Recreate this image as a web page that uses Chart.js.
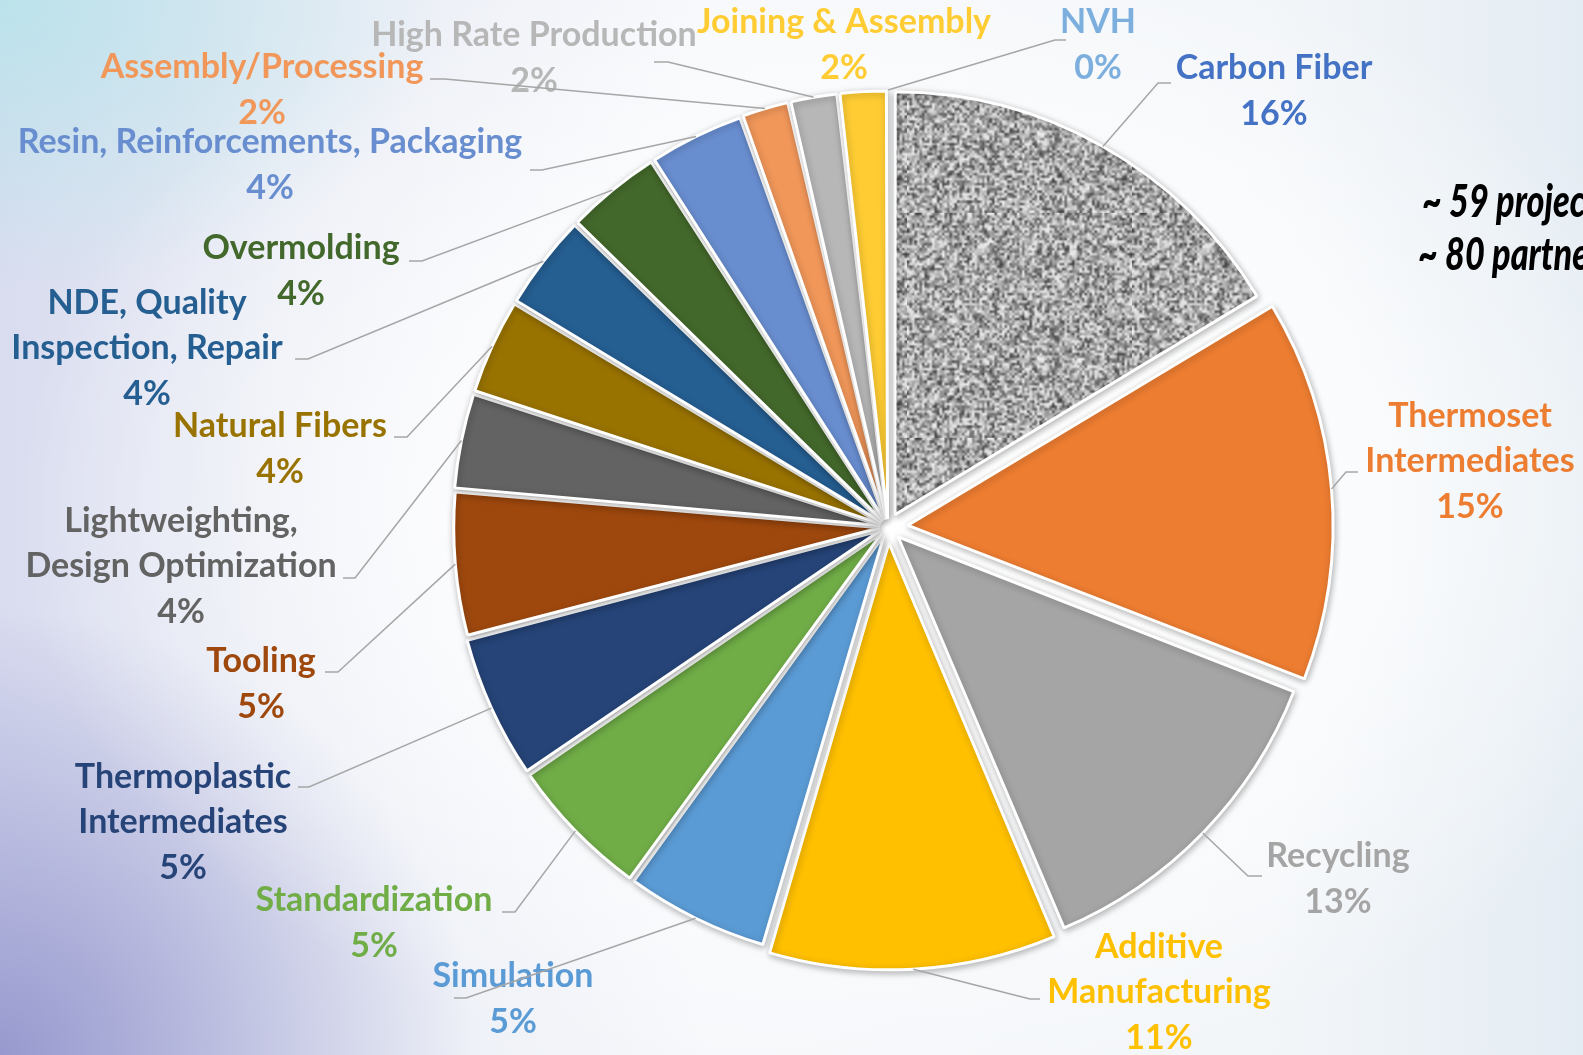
<!DOCTYPE html>
<html>
<head>
<meta charset="utf-8">
<script src="https://cdn.jsdelivr.net/npm/chart.js@4.4.0/dist/chart.umd.min.js"></script>
<style>
html, body { margin: 0; padding: 0; overflow: hidden; }
body {
  width: 1583px; height: 1055px;
  background:
    radial-gradient(ellipse 55% 55% at 56% 48%, rgba(255,255,255,1) 0%, rgba(255,255,255,0.85) 45%, rgba(255,255,255,0) 100%),
    radial-gradient(ellipse 30% 42% at 0% 100%, rgba(148,150,205,0.95) 0%, rgba(148,150,205,0) 100%),
    radial-gradient(ellipse 28% 28% at 0% 0%, rgba(185,228,235,0.9) 0%, rgba(185,228,235,0) 100%),
    linear-gradient(to right, #d9dcef 0%, #e9ecf5 18%, #f6f8fb 45%, #f3f6f9 80%, #e4ecf3 100%);
}
#wrap { position: relative; width: 1583px; height: 1055px; }
#pie { position: absolute; left: 0; top: 0; }
.note {
  position: absolute; white-space: nowrap; color: #000;
  font-family: Lato, "Open Sans", sans-serif; font-weight: 900; font-style: italic; font-size: 45px;
  transform: scaleX(0.76); transform-origin: left top;
}
</style>
</head>
<body>
<div id="wrap">
  <canvas id="pie" width="1583" height="1055"></canvas>
  <div class="note" style="left:1422px; top:173px;">~ 59 projects</div>
  <div class="note" style="left:1418px; top:226px;">~ 80 partners</div>
</div>
<script>
// categories, clockwise from 12 o'clock
var categories = [
  'Carbon Fiber',
  ['Thermoset', 'Intermediates'],
  'Recycling',
  ['Additive', 'Manufacturing'],
  'Simulation',
  'Standardization',
  ['Thermoplastic', 'Intermediates'],
  'Tooling',
  ['Lightweighting,', 'Design Optimization'],
  'Natural Fibers',
  ['NDE, Quality', 'Inspection, Repair'],
  'Overmolding',
  'Resin, Reinforcements, Packaging',
  'Assembly/Processing',
  'High Rate Production',
  'Joining & Assembly',
  'NVH'
];
// number of projects per area
var projects = [9, 8, 7, 6, 3, 3, 3, 3, 2, 2, 2, 2, 2, 1, 1, 1, 0];

var sliceColors = ['#A5A5A5', '#ED7D31', '#A5A5A5', '#FFC000', '#5B9BD5', '#70AD47', '#264478', '#9E480E',
  '#636363', '#997300', '#255E91', '#43682B', '#698ED0', '#F1975A', '#B7B7B7', '#FFCD33', '#7CAFDD'];
var textColors = ['#4472C4', '#ED7D31', '#A5A5A5', '#FFC000', '#5B9BD5', '#70AD47', '#264478', '#9E480E',
  '#636363', '#997300', '#255E91', '#43682B', '#698ED0', '#F1975A', '#B7B7B7', '#FFCD33', '#7CAFDD'];

// how far each slice is pulled out, px
var explode = [14, 20, 14, 16, 9, 9, 9, 8, 8, 8, 8, 8, 8, 8, 8, 8, 8];

// label layout: text centre x, first line y, leader stub (near x, y, elbow x)
var labelLayout = [
  [1274, 68, 1171, 83, 1158],
  [1470, 416, 1358, 472, 1346],
  [1338, 856, 1262, 876, 1248],
  [1159, 947, 1040, 999, 1030],
  [513, 976, 454, 998, 466],
  [374, 900, 502, 912, 515],
  [183, 777, 298, 787, 309],
  [261, 661, 325, 672, 338],
  [181, 521, 343, 578, 355],
  [280, 426, 394, 437, 407],
  [147, 303, 295, 359, 308],
  [301, 248, 409, 261, 422],
  [270, 142, 530, 170, 542],
  [262, 67, 430, 79, 445],
  [534, 35, 654, 62, 668],
  [844, 22, null, null, null],
  [1098, 22, 1066, 40, 1055]
];

var total = projects.reduce(function(a, b) { return a + b; }, 0);

// grey speckled fill for the carbon fiber slice
function carbonPattern() {
  var small = document.createElement('canvas');
  small.width = 90; small.height = 90;
  var sc = small.getContext('2d');
  var img = sc.createImageData(90, 90);
  var seed = 12345;
  for (var i = 0; i < 90 * 90; i++) {
    seed = (seed * 16807) % 2147483647;
    var g = 60 + Math.floor(185 * Math.pow(seed / 2147483647, 0.75));
    img.data[i * 4] = g; img.data[i * 4 + 1] = g; img.data[i * 4 + 2] = g; img.data[i * 4 + 3] = 255;
  }
  sc.putImageData(img, 0, 0);
  var big = document.createElement('canvas');
  big.width = 225; big.height = 225;
  var bc = big.getContext('2d');
  bc.imageSmoothingEnabled = true;
  bc.drawImage(small, 0, 0, 225, 225);
  return bc.createPattern(big, 'repeat');
}

var ctx = document.getElementById('pie').getContext('2d');
var fills = sliceColors.slice();
fills[0] = carbonPattern();

var shadowPlugin = {
  id: 'sliceShadow',
  beforeDatasetsDraw: function(chart) {
    var c = chart.ctx;
    c.save();
    c.shadowColor = 'rgba(0,0,0,0.28)';
    c.shadowBlur = 7;
    c.shadowOffsetX = 1;
    c.shadowOffsetY = 2;
  },
  afterDatasetsDraw: function(chart) {
    chart.ctx.restore();
  }
};

var labelPlugin = {
  id: 'sliceLabels',
  afterDraw: function(chart) {
    var c = chart.ctx;
    var arcs = chart.getDatasetMeta(0).data;
    c.save();
    c.font = '700 34px Lato';
    c.textAlign = 'center';
    c.textBaseline = 'middle';
    arcs.forEach(function(arc, i) {
      var lay = labelLayout[i];
      var lines = [].concat(categories[i]);
      var pct = Math.round(projects[i] / total * 100) + '%';
      c.fillStyle = textColors[i];
      var y = lay[1];
      lines.forEach(function(t, k) {
        c.fillText(t, lay[0], y + k * 45);
      });
      c.fillText(pct, lay[0], y + (lines.length - 1) * 45 + 46);
    });
    c.strokeStyle = '#A6A6A6';
    c.lineWidth = 1.5;
    arcs.forEach(function(arc, i) {
      var lay = labelLayout[i];
      if (lay[2] === null) return;
      var mid = (arc.startAngle + arc.endAngle) / 2;
      var circ = arc.endAngle - arc.startAngle;
      // chart.js also grows thin exploded slices a little
      var grow = explode[i] * (1 - Math.sin(Math.min(Math.PI, circ)));
      var r = arc.outerRadius + explode[i] + grow;
      c.beginPath();
      c.moveTo(lay[2], lay[3]);
      c.lineTo(lay[4], lay[3]);
      c.lineTo(arc.x + Math.cos(mid) * r, arc.y + Math.sin(mid) * r);
      c.stroke();
    });
    c.restore();
  }
};

var pieChart = new Chart(ctx, {
  type: 'pie',
  data: {
    labels: categories,
    datasets: [{
      data: projects,
      backgroundColor: fills,
      borderColor: '#ffffff',
      borderWidth: 3,
      offset: explode.map(function(o) { return o * 4; })
    }]
  },
  options: {
    responsive: false,
    animation: false,
    radius: 421,
    layout: { padding: { left: 193, right: 0, top: 0, bottom: 1 } },
    plugins: {
      legend: { display: false },
      tooltip: { enabled: false }
    }
  },
  plugins: [shadowPlugin, labelPlugin]
});
</script>
</body>
</html>
